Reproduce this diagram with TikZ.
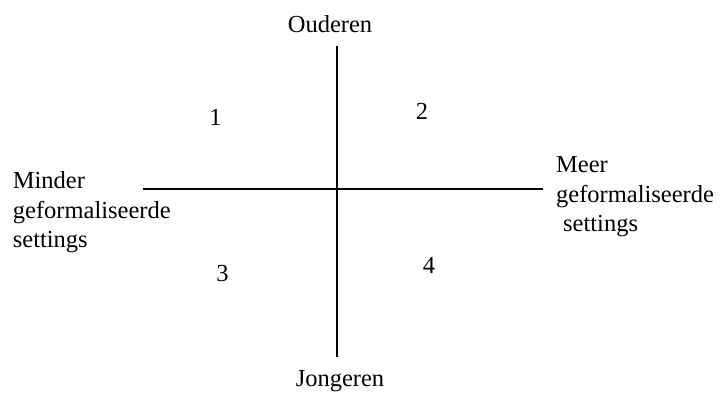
\documentclass[tikz,border=0pt]{standalone}
\usepackage{fontspec}
\setmainfont{Liberation Serif}
\usepackage{tikz}
\tikzset{
  lbl/.style={inner sep=0pt, font=\fontsize{24.5}{29.5}\selectfont},
  side/.style={lbl, align=left, anchor=base west},
  num/.style={lbl, anchor=base},
  axis/.style={line width=2pt, draw=black},
}

\begin{document}
\begin{tikzpicture}[x=1pt, y=1pt]
    \useasboundingbox (0,0) rectangle (721,399);
    % axis ends
    \coordinate (top) at (337,353);
    \coordinate (bot) at (337,42);
    \coordinate (lft) at (143,210);
    \coordinate (rgt) at (543,210);

    \node[num] (oud) at (330,366) {Ouderen};
    \node[num] (jong) at (340,12) {Jongeren};
    \node[side] (minder) at (12.7,151) {Minder\\geformaliseerde\\settings};
    \node[side] (meer) at (556,167) {Meer\\geformaliseerde\\\hspace*{7pt}settings};

    \node[num] (q1) at (215.5,273) {1};
    \node[num] (q2) at (422,279) {2};
    \node[num] (q3) at (222.5,117) {3};
    \node[num] (q4) at (429,125) {4};

    \draw[axis] (top) -- (bot);
    \draw[axis] (lft) -- (rgt);
  \end{tikzpicture}
\end{document}
